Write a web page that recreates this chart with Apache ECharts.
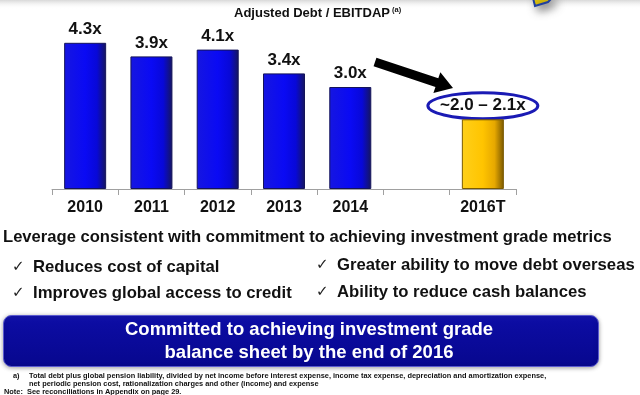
<!DOCTYPE html>
<html>
<head>
<meta charset="utf-8">
<script src="https://cdn.jsdelivr.net/npm/echarts@6/dist/echarts.min.js"></script>
<style>
html,body{margin:0;padding:0;background:#fff;}
#c{width:640px;height:395px;}
</style>
</head>
<body>
<div id="c"></div>
<script>
// ---- data ----
const categories = ['2010', '2011', '2012', '2013', '2014', '', '2016T'];
const values = [4.3, 3.9, 4.1, 3.4, 3.0, null, 2.05];
const valueLabels = ['4.3x', '3.9x', '4.1x', '3.4x', '3.0x', '', '~2.0 – 2.1x'];
const targetIndex = 6;
const chartTitle = 'Adjusted Debt / EBITDAP';
const headline = 'Leverage consistent with commitment to achieving investment grade metrics';
const bulletsLeft = ['Reduces cost of capital', 'Improves global access to credit'];
const bulletsRight = ['Greater ability to move debt overseas', 'Ability to reduce cash balances'];
const boxLines = ['Committed to achieving investment grade', 'balance sheet by the end of 2016'];
const footnotes = [
  'Total debt plus global pension liability, divided by net income before interest expense, income tax expense, depreciation and amortization expense,',
  'net periodic pension cost, rationalization charges and other (income) and expense'
];
const noteText = 'Note:  See reconciliations in Appendix on page 29.';

const FONT = '"Liberation Sans", Arial, sans-serif';

const blueStyle = {
  color: {type: 'linear', x: 0, y: 0, x2: 1, y2: 0, colorStops: [
    {offset: 0, color: '#1616e0'}, {offset: 0.5, color: '#0a0af4'},
    {offset: 0.78, color: '#0808d8'}, {offset: 1, color: '#16165c'}]},
  borderColor: '#14145a', borderWidth: 1
};
const yellowStyle = {
  color: {type: 'linear', x: 0, y: 0, x2: 1, y2: 0, colorStops: [
    {offset: 0, color: '#ffd01a'}, {offset: 0.5, color: '#ffc400'},
    {offset: 0.78, color: '#e6a800'}, {offset: 1, color: '#7a5800'}]},
  borderColor: '#7a5a00', borderWidth: 1
};

const chart = echarts.init(document.getElementById('c'), null, {renderer: 'canvas'});

const option = {
  animation: false,
  backgroundColor: '#ffffff',
  grid: {left: 52, right: 124, top: 19, bottom: 206, containLabel: false},
  xAxis: {
    type: 'category',
    data: categories,
    boundaryGap: true,
    axisLine: {show: true, lineStyle: {color: '#a0a0a0', width: 1}},
    axisTick: {show: true, length: 6, lineStyle: {color: '#a0a0a0'}},
    axisLabel: {color: '#111', fontFamily: FONT, fontWeight: 'bold', fontSize: 16, margin: 11, interval: 0}
  },
  yAxis: {type: 'value', min: 0, max: 5, show: false, splitLine: {show: false}},
  series: [{
    type: 'bar',
    barWidth: 42,
    data: values.map((v, i) => v == null ? '-' : {value: v, itemStyle: i === targetIndex ? yellowStyle : blueStyle}),
    label: {
      show: true, position: 'top', distance: 5,
      color: '#111', fontFamily: FONT, fontWeight: 'bold', fontSize: 17,
      formatter: p => valueLabels[p.dataIndex]
    }
  }]
};
chart.setOption(option);

// annotation positions derived from the data coordinate system
const tp = chart.convertToPixel({seriesIndex: 0}, [targetIndex, values[targetIndex]]);
const ellCx = tp[0];
const ellCy = tp[1] - 13.5;

function arrowPoints(tail, tip, shaftHalf, headLen, headHalf) {
  const dx = tip[0] - tail[0], dy = tip[1] - tail[1];
  const L = Math.sqrt(dx * dx + dy * dy);
  const ux = dx / L, uy = dy / L, nx = -uy, ny = ux;
  const neck = [tip[0] - ux * headLen, tip[1] - uy * headLen];
  return [
    [tail[0] + nx * shaftHalf, tail[1] + ny * shaftHalf],
    [neck[0] + nx * shaftHalf, neck[1] + ny * shaftHalf],
    [neck[0] + nx * headHalf, neck[1] + ny * headHalf],
    tip,
    [neck[0] - nx * headHalf, neck[1] - ny * headHalf],
    [neck[0] - nx * shaftHalf, neck[1] - ny * shaftHalf],
    [tail[0] - nx * shaftHalf, tail[1] - ny * shaftHalf]
  ];
}

function txt(x, y, text, size, opts) {
  opts = opts || {};
  return {
    type: 'text', x: x, y: y, z: 10,
    style: {
      text: text, fill: opts.fill || '#111', fontFamily: opts.family || FONT,
      fontWeight: opts.weight || 'bold', fontSize: size,
      textAlign: opts.align || 'left', textVerticalAlign: 'middle'
    }
  };
}

const CHECK_FONT = '"DejaVu Sans", sans-serif';
const chk = {weight: 'normal', family: CHECK_FONT, fill: '#222'};

const graphics = [
  // top shadow band
  {type: 'rect', shape: {x: 0, y: 0, width: 640, height: 9}, z: -1,
   style: {fill: {type: 'linear', x: 0, y: 0, x2: 0, y2: 1, colorStops: [
     {offset: 0, color: '#d8d8d8'}, {offset: 1, color: 'rgba(255,255,255,0)'}]}}},
  // logo fragment at top right
  {type: 'polygon', shape: {points: [[533, -2], [552, -2], [548, 2], [535, 6]]}, z: 1,
   style: {fill: '#e8cc10', stroke: '#2040a0', lineWidth: 2, shadowBlur: 10, shadowColor: 'rgba(0,0,0,0.5)', shadowOffsetX: 4, shadowOffsetY: 4}},
  txt(234, 13, chartTitle, 13),
  txt(392, 10, '(a)', 7.5),
  // target ellipse
  {type: 'ellipse', shape: {cx: ellCx, cy: ellCy, rx: 55, ry: 13}, z: 1,
   style: {fill: '#ffffff', stroke: '#1a1ab4', lineWidth: 3}},
  // arrow
  {type: 'polygon', shape: {points: arrowPoints([375, 62], [453, 88], 4.5, 17, 11)}, z: 1,
   style: {fill: '#000000'}},
  // text block
  txt(3, 237, headline, 16.6),
  txt(12, 267, '✓', 15, chk),
  txt(33, 267, bulletsLeft[0], 16.7),
  txt(12, 293, '✓', 15, chk),
  txt(33, 293, bulletsLeft[1], 16.7),
  txt(316, 265, '✓', 15, chk),
  txt(337, 265, bulletsRight[0], 16.7),
  txt(316, 292, '✓', 15, chk),
  txt(337, 292, bulletsRight[1], 16.7),
  // navy box
  {type: 'rect', shape: {x: 3.5, y: 315.5, width: 595, height: 51, r: 8}, z: 2,
   style: {fill: {type: 'linear', x: 0, y: 0, x2: 0, y2: 1, colorStops: [
     {offset: 0, color: '#1616b0'}, {offset: 0.15, color: '#0c0ca2'}, {offset: 1, color: '#07078e'}]},
     stroke: '#5a5ad0', lineWidth: 1, shadowBlur: 4, shadowColor: 'rgba(0,0,0,0.35)', shadowOffsetY: 1}},
  txt(309, 330, boxLines[0], 18.5, {fill: '#ffffff', align: 'center'}),
  txt(309, 353, boxLines[1], 18.5, {fill: '#ffffff', align: 'center'}),
  // footnotes
  txt(13, 376, 'a)', 7.4),
  txt(29, 376, footnotes[0], 7.4),
  txt(29, 384, footnotes[1], 7.4),
  txt(4, 392, noteText, 7.4)
];

chart.setOption({graphic: {elements: graphics}});
</script>
</body>
</html>
